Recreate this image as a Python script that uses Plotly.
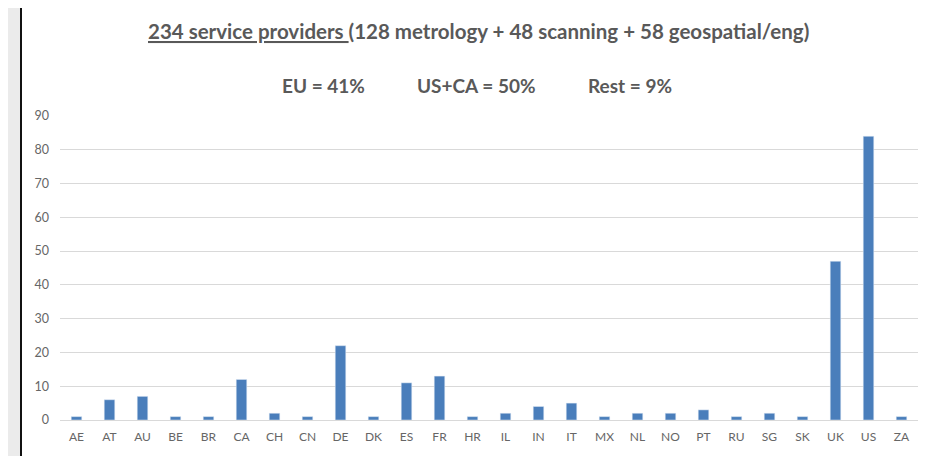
import plotly.graph_objects as go

countries = ["AE", "AT", "AU", "BE", "BR", "CA", "CH", "CN", "DE", "DK", "ES", "FR", "HR",
             "IL", "IN", "IT", "MX", "NL", "NO", "PT", "RU", "SG", "SK", "UK", "US", "ZA"]
providers = [1, 6, 7, 1, 1, 12, 2, 1, 22, 1, 11, 13, 1,
             2, 4, 5, 1, 2, 2, 3, 1, 2, 1, 47, 84, 1]
y_ticks = [0, 10, 20, 30, 40, 50, 60, 70, 80, 90]

title_text = "<b><u>234 service providers </u>(128 metrology + 48 scanning + 58 geospatial/eng)</b>"
share_labels = ["EU = 41%", "US+CA = 50%", "Rest = 9%"]

FONT = "Lato"
TXT = "#595959"

fig = go.Figure(go.Bar(x=countries, y=providers, marker_color="#4a7ebb", width=0.32))

# page body keeps its default 8px offset; figure sized to the visible window
OFF = 8
W, H = 928 - OFF, 456 - OFF
ml, mr, mt, mb = 52, 10, 108, 36
pw = W - ml - mr
ph = H - mt - mb

def px_x(px):
    return (px - OFF - ml) / pw

def px_y(py):
    return (H - mb - (py - OFF)) / ph

shapes = [
    dict(type="rect", xref="paper", yref="paper", x0=px_x(0), x1=px_x(21), y0=px_y(470), y1=px_y(0),
         fillcolor="#ebebeb", line_width=0, layer="below"),
    dict(type="line", xref="paper", yref="paper", x0=px_x(21), x1=px_x(21), y0=px_y(0), y1=px_y(470),
         line=dict(color="#111111", width=2), layer="below"),
]

annotations = [
    dict(text=title_text, xref="paper", yref="paper", x=px_x(478), y=px_y(31), showarrow=False,
         xanchor="center", yanchor="middle", font=dict(family=FONT, size=20.5, color=TXT)),
]
share_x = [323, 476, 630]
for lbl, sx in zip(share_labels, share_x):
    annotations.append(dict(text="<b>" + lbl + "</b>", xref="paper", yref="paper", x=px_x(sx), y=px_y(85),
                            showarrow=False, xanchor="center", yanchor="middle",
                            font=dict(family=FONT, size=19, color=TXT)))

fig.update_layout(
    width=W, height=H,
    margin=dict(l=ml, r=mr, t=mt, b=mb),
    paper_bgcolor="white", plot_bgcolor="white",
    showlegend=False,
    font=dict(family=FONT, color=TXT, size=12),
    shapes=shapes,
    annotations=annotations,
    xaxis=dict(type="category", showgrid=False, showline=True, linecolor="#d9d9d9", linewidth=1,
               ticks="", tickfont=dict(size=12, color="#666666"), ticklabelstandoff=6),
    yaxis=dict(range=[0, 90], tickvals=y_ticks, showgrid=True, gridcolor="#d9d9d9", gridwidth=1,
               zeroline=False, showline=False, ticks="", tickfont=dict(size=12.5, color="#666666"),
               ticklabelstandoff=10),
)

fig.write_html("out.html", config={"displayModeBar": False})
